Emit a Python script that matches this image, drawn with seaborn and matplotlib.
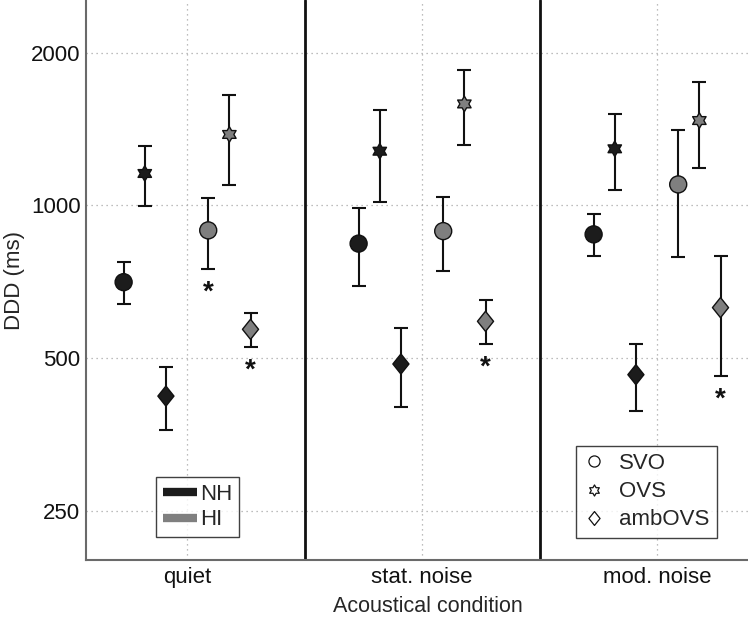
import numpy as np
import pandas as pd
import matplotlib
matplotlib.use("Agg")
import matplotlib.pyplot as plt
import seaborn as sns
from matplotlib.path import Path
from matplotlib.lines import Line2D
from matplotlib.ticker import NullLocator, FixedLocator, FixedFormatter

conditions = ["quiet", "stat. noise", "mod. noise"]
listener_groups = ["NH", "HI"]
structures = ["SVO", "OVS", "ambOVS"]

# mean DDD (ms) per acoustical condition
nh_svo = [706, 841, 877]
nh_ovs = [1156, 1279, 1293]
nh_amb = [421, 487, 464]
hi_svo = [893, 890, 1100]
hi_ovs = [1380, 1585, 1470]
hi_amb = [570, 591, 629]
# error bar ends (lower / upper)
nh_svo_lo = [639, 693, 795]
nh_svo_hi = [775, 988, 960]
nh_ovs_lo = [997, 1014, 1075]
nh_ovs_hi = [1308, 1545, 1515]
nh_amb_lo = [361, 400, 394]
nh_amb_hi = [481, 573, 533]
hi_svo_lo = [751, 742, 791]
hi_svo_hi = [1032, 1037, 1405]
hi_ovs_lo = [1095, 1318, 1184]
hi_ovs_hi = [1653, 1846, 1754]
hi_amb_lo = [526, 533, 461]
hi_amb_hi = [615, 650, 794]
# significance marks: (condition, group, structure)
significant = [("quiet", "HI", "SVO"), ("quiet", "HI", "ambOVS"),
               ("stat. noise", "HI", "ambOVS"), ("mod. noise", "HI", "ambOVS")]
yticks = [250, 500, 1000, 2000]

series = {
    ("NH", "SVO"): (nh_svo, nh_svo_lo, nh_svo_hi),
    ("NH", "OVS"): (nh_ovs, nh_ovs_lo, nh_ovs_hi),
    ("NH", "ambOVS"): (nh_amb, nh_amb_lo, nh_amb_hi),
    ("HI", "SVO"): (hi_svo, hi_svo_lo, hi_svo_hi),
    ("HI", "OVS"): (hi_ovs, hi_ovs_lo, hi_ovs_hi),
    ("HI", "ambOVS"): (hi_amb, hi_amb_lo, hi_amb_hi),
}

step = 0.09
rows = []
for (g, s), (m, lo, hi) in series.items():
    si = structures.index(s)
    off = -(3 - si) * step if g == "NH" else (si + 1) * step
    for ci, c in enumerate(conditions):
        rows.append(dict(condition=c, group=g, structure=s, x=ci + 1 + off,
                         ddd=m[ci], lo=lo[ci], hi=hi[ci]))
df = pd.DataFrame(rows)

sns.set_style("white")
plt.rcParams["font.family"] = ["Liberation Sans", "DejaVu Sans"]

FS = 16
fig = plt.figure(figsize=(7.48, 6.21), dpi=100)
ax = fig.add_axes([0.115, 0.098, 0.885, 0.902])

# custom markers
r_in = 1 / np.sqrt(3)
star_pts = []
for k in range(12):
    ang = np.pi / 2 + k * np.pi / 6
    r = 1.0 if k % 2 == 0 else r_in
    star_pts.append((r * np.cos(ang), r * np.sin(ang)))
star_pts.append(star_pts[0])
hexagram = Path(star_pts, closed=True)
diamond = Path([(0, 1), (0.8, 0), (0, -1), (-0.8, 0), (0, 1)], closed=True)
marker_map = {"SVO": "o", "OVS": hexagram, "ambOVS": diamond}
size_map = {"SVO": 150, "OVS": 125, "ambOVS": 210}
palette = {"NH": "#1c1c1c", "HI": "#7f7f7f"}

# error bars
ax.errorbar(df["x"], df["ddd"], yerr=[df["ddd"] - df["lo"], df["hi"] - df["ddd"]],
            fmt="none", ecolor="#111111", elinewidth=1.5, capsize=5, capthick=1.5, zorder=2)

for s in structures:
    sub = df[df["structure"] == s]
    sns.scatterplot(data=sub, x="x", y="ddd", hue="group", palette=palette,
                    marker=marker_map[s], s=size_map[s], edgecolor="#111111",
                    linewidth=1.0, legend=False, ax=ax, zorder=3)

# significance asterisks
for c, g, s in significant:
    r = df[(df["condition"] == c) & (df["group"] == g) & (df["structure"] == s)].iloc[0]
    ax.annotate("*", xy=(r["x"], r["lo"]), xytext=(0, -17), textcoords="offset points",
                ha="center", va="center", fontsize=20, fontweight="bold", color="#111111")

ax.set_yscale("log")
ax.set_ylim(200, 2540)
ax.set_xlim(0.57, 3.387)
ax.yaxis.set_major_locator(FixedLocator(yticks))
ax.yaxis.set_major_formatter(FixedFormatter([str(t) for t in yticks]))
ax.yaxis.set_minor_locator(NullLocator())
ax.set_xticks([1, 2, 3])
ax.set_xticklabels(conditions)
ax.tick_params(axis="both", direction="in", length=3, width=0.8, labelsize=FS,
               colors="#111111")
ax.tick_params(axis="y", pad=4)
ax.tick_params(axis="x", pad=5)

ax.grid(True, which="major", linestyle=(0, (1, 3)), color="#a8a8a8", linewidth=0.9)
ax.set_axisbelow(True)

for xs in [1.5, 2.5]:
    ax.axvline(xs, color="#111111", linewidth=2.0, zorder=1)

for side in ["top", "right"]:
    ax.spines[side].set_visible(False)
for side in ["left", "bottom"]:
    ax.spines[side].set_color("#6a6a6a")
    ax.spines[side].set_linewidth(1.5)

ax.set_xlabel("Acoustical condition", fontsize=15.5, labelpad=4)
ax.xaxis.set_label_coords((428 - 86) / 662, -0.064)
ax.set_ylabel("DDD (ms)", fontsize=FS, labelpad=4)

# legends
h1 = [Line2D([0], [0], color=palette[g], lw=6, solid_capstyle="butt") for g in listener_groups]
leg1 = fig.legend(h1, listener_groups, loc="lower left", bbox_to_anchor=(0.2086, 0.135),
                  bbox_transform=fig.transFigure, borderaxespad=0, fontsize=FS,
                  frameon=True, fancybox=False, edgecolor="#111111", handlelength=1.55,
                  handletextpad=0.15, labelspacing=0.2, borderpad=0.3)
leg1.get_frame().set_linewidth(1.0)

h2 = [Line2D([0], [0], linestyle="none", marker=marker_map[s],
             markersize={"SVO": 8, "OVS": 8, "ambOVS": 10}[s],
             markerfacecolor="white", markeredgecolor="#111111", markeredgewidth=0.9)
      for s in structures]
leg2 = fig.legend(h2, structures, loc="lower left", bbox_to_anchor=(0.770, 0.134),
                  bbox_transform=fig.transFigure, borderaxespad=0, fontsize=FS,
                  frameon=True, fancybox=False, edgecolor="#111111", handlelength=1.0,
                  handletextpad=0.6, labelspacing=0.32, borderpad=0.33)
leg2.get_frame().set_linewidth(1.0)

fig.savefig("out.png", dpi=100)
